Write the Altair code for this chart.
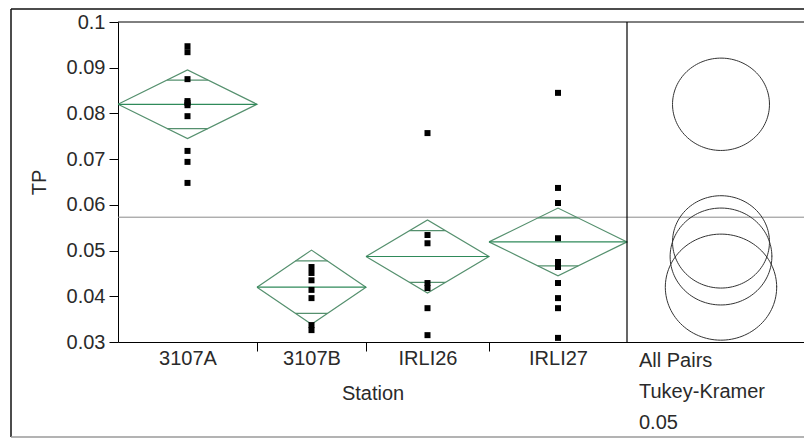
import altair as alt
import pandas as pd

# ---------------- data ----------------
stations = ["3107A", "3107B", "IRLI26", "IRLI27"]
group_widths = [139, 109, 123, 138]          # JMP proportional x-axis widths
tp_3107A = [0.0947, 0.0934, 0.0875, 0.0827, 0.0823, 0.0818, 0.0794, 0.0718, 0.0694, 0.0648]
tp_3107B = [0.0464, 0.0451, 0.0435, 0.0414, 0.0396, 0.0337, 0.0326]
tp_IRLI26 = [0.0757, 0.0534, 0.0516, 0.0429, 0.0418, 0.0374, 0.0315]
tp_IRLI27 = [0.0845, 0.0637, 0.0604, 0.0527, 0.0475, 0.0464, 0.0429, 0.0396, 0.0374, 0.0309]
group_means = [0.0820, 0.0420, 0.0487, 0.0519]
ci_half = [0.0075, 0.0081, 0.0080, 0.0074]
circle_radius = [0.0101, 0.0116, 0.0106, 0.0101]
grand_mean = 0.0573
y_ticks = [0.03, 0.04, 0.05, 0.06, 0.07, 0.08, 0.09, 0.1]
panel_lines = ["All Pairs", "Tukey-Kramer", "\u20020.05"]
x_title = "Station"
y_title = "TP"

# ---------------- layout ----------------
PANEL_W = 177
CAT_W = sum(group_widths)
W = CAT_W + PANEL_W
H = 320
YMIN, YMAX = y_ticks[0], y_ticks[-1]
K = H / (YMAX - YMIN) * 1.05      # px per TP unit for circle x-radius
CIRCLE_CX = CAT_W + 94
FONT = "Liberation Sans"
TXT = "#2a2a2a"
GREEN_EDGE = "#55906e"
GREEN_MEAN = "#2f8a5a"

lefts, centers = [], []
acc = 0
for w in group_widths:
    lefts.append(acc)
    centers.append(acc + w / 2)
    acc += w
boundaries = lefts[1:]

# tables built from the arrays
series = [tp_3107A, tp_3107B, tp_IRLI26, tp_IRLI27]
pts = pd.DataFrame([
    {"station": s, "x": c, "tp": v}
    for s, c, vals in zip(stations, centers, series) for v in vals
])

dia_rows = []
for s, l, w, m, h in zip(stations, lefts, group_widths, group_means, ci_half):
    c = l + w / 2
    verts = [(l, m), (c, m + h), (l + w, m), (c, m - h), (l, m)]
    for i, (vx, vy) in enumerate(verts):
        dia_rows.append({"station": s, "i": i, "x": vx, "y": vy})
dia = pd.DataFrame(dia_rows)

seg_rows = []
R2 = 2 ** 0.5
for s, l, w, m, h in zip(stations, lefts, group_widths, group_means, ci_half):
    c = l + w / 2
    seg_rows.append({"kind": "mean", "x": l, "x2": l + w, "y": m})
    half = (w / 2) * (1 - 1 / R2)
    seg_rows.append({"kind": "ovl", "x": c - half, "x2": c + half, "y": m + h / R2})
    seg_rows.append({"kind": "ovl", "x": c - half, "x2": c + half, "y": m - h / R2})
segs = pd.DataFrame(seg_rows)

circ = pd.DataFrame({"station": stations, "mean": group_means, "radius": circle_radius})

# ---------------- scales / axes ----------------
label_expr = ""
for c, s in zip(centers, stations):
    label_expr += f"datum.value == {c} ? '{s}' : "
label_expr += "''"
bnd_js = "[" + ",".join(str(b) for b in boundaries) + "]"

xscale = alt.Scale(domain=[0, W], nice=False, zero=False)
yscale = alt.Scale(domain=[YMIN, YMAX], nice=False, zero=False)
xaxis = alt.Axis(
    values=boundaries + centers, labelExpr=label_expr, grid=False,
    tickSize=9, tickColor="black",
    tickOpacity={"condition": {"test": f"indexof({bnd_js}, datum.value) >= 0", "value": 1}, "value": 0},
    domainColor="black", labelFont=FONT, labelFontSize=20, labelColor=TXT,
    labelPadding=-3, labelFlush=False, labelOverlap=False,
    titleFont=FONT, titleFontSize=20, titleFontWeight="normal", titleColor=TXT,
    titleX=CAT_W / 2, titleY=41, titleBaseline="top",
)
yaxis = alt.Axis(
    values=y_ticks, format="~g", grid=False, tickSize=9, tickColor="black",
    domainColor="black", labelFont=FONT, labelFontSize=20, labelColor=TXT,
    labelPadding=4, labelFlush=False,
    titleFont=FONT, titleFontSize=20, titleFontWeight="normal", titleColor=TXT,
    titleX=-73, titleBaseline="alphabetic",
)


def X(f):
    return alt.X(f, type="quantitative", scale=xscale, axis=xaxis, title=x_title)


def Y(f):
    return alt.Y(f, type="quantitative", scale=yscale, axis=yaxis, title=y_title)


# ---------------- layers ----------------
frame_df = pd.DataFrame({"x0": [0], "x1": [W], "xd": [CAT_W], "y0": [YMIN], "y1": [YMAX], "gm": [grand_mean]})
base_frame = alt.Chart(frame_df)

top_line = base_frame.mark_rule(color="black", strokeWidth=1).encode(
    x=X("x0"), x2="x1", y=Y("y1"))
divider = base_frame.mark_rule(color="black", strokeWidth=1.2).encode(
    x=X("xd"), y=Y("y0"), y2="y1")
gm_line = base_frame.mark_rule(color="#8a8a8a", strokeWidth=1).encode(
    x=X("x0"), x2="x1", y=Y("gm"))

outer_left = base_frame.mark_rule(color="#111111", strokeWidth=1.5).encode(
    x=alt.value(-107), y=alt.value(-13), y2=alt.value(415))
outer_top = base_frame.mark_rule(color="#111111", strokeWidth=1.5).encode(
    x=alt.value(-107), x2=alt.value(W), y=alt.value(-13))
outer_bottom = base_frame.mark_rule(color="#9a9a9a", strokeWidth=1.5).encode(
    x=alt.value(-107), x2=alt.value(W), y=alt.value(415))

diamonds = alt.Chart(dia).mark_line(color=GREEN_EDGE, strokeWidth=1.2).encode(
    x=X("x"), y=Y("y"), detail="station:N", order="i:Q")
mean_lines = alt.Chart(segs).transform_filter("datum.kind == 'mean'").mark_rule(
    color=GREEN_MEAN, strokeWidth=1.2).encode(x=X("x"), x2="x2", y=Y("y"))
ovl_lines = alt.Chart(segs).transform_filter("datum.kind == 'ovl'").mark_rule(
    color=GREEN_EDGE, strokeWidth=1.2).encode(x=X("x"), x2="x2", y=Y("y"))

points = alt.Chart(pts).mark_square(size=36, color="black", opacity=1).encode(
    x=X("x"), y=Y("tp"))

circles = alt.Chart(circ).transform_calculate(
    t="sequence(0, 6.35, 0.05)"
).transform_flatten(["t"]).transform_calculate(
    cx=f"{CIRCLE_CX} + datum.radius * {K} * cos(datum.t)",
    cy="datum.mean + datum.radius * sin(datum.t)",
).mark_line(color="#333333", strokeWidth=1).encode(
    x=X("cx"), y=Y("cy"), detail="station:N", order="t:Q")

panel_df = pd.DataFrame({"x": [CAT_W], "label": ["\n".join(panel_lines)]})
panel_text = alt.Chart(panel_df).mark_text(
    align="left", baseline="top", dx=12, lineBreak="\n", lineHeight=31,
    font=FONT, fontSize=20, color=TXT
).encode(x=X("x"), y=alt.value(H + 9), text="label:N")

chart = alt.layer(
    outer_left, outer_top, outer_bottom,
    gm_line, diamonds, mean_lines, ovl_lines, points, circles,
    top_line, divider, panel_text,
).properties(
    width=W, height=H,
    autosize=alt.AutoSizeParams(type="none"),
    padding={"left": 110, "top": 14, "right": 0, "bottom": 97},
    background="white",
).configure_view(stroke="transparent")

chart.save("out.html", embed_options={"renderer": "svg", "actions": False})
